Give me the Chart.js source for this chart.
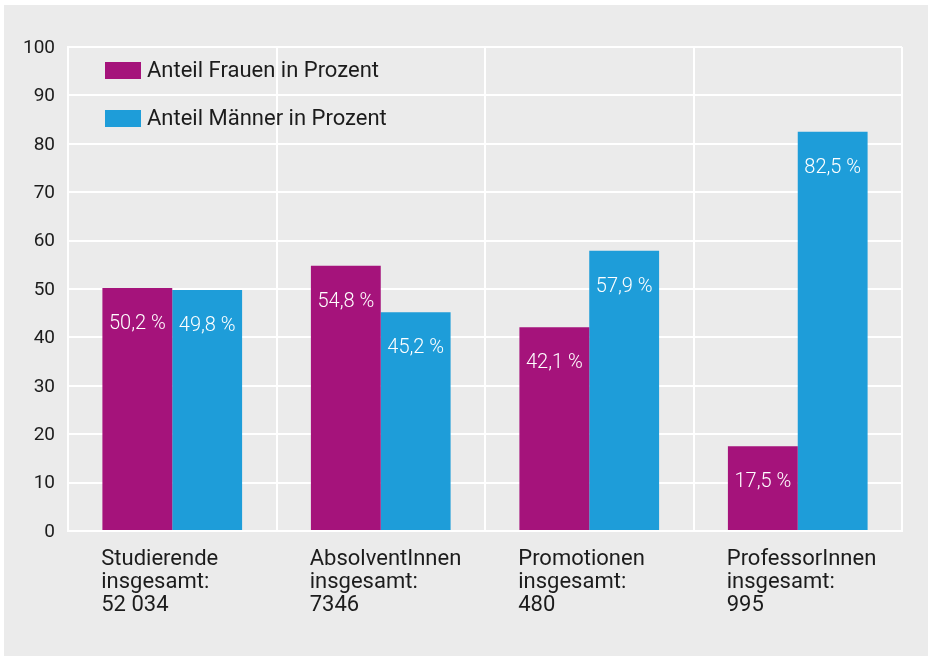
<!DOCTYPE html>
<html>
<head>
<meta charset="utf-8">
<script src="https://cdn.jsdelivr.net/npm/chart.js@4.4.1/dist/chart.umd.min.js"></script>
<style>
  html, body { margin: 0; padding: 0; background: #ffffff; }
  canvas { display: block; }
</style>
</head>
<body>
<canvas id="shareChart" width="928" height="657"></canvas>
<script>
  // Anteile Frauen / Männer
  var categories = [
      ['Studierende', 'insgesamt:', '52 034'],
      ['AbsolventInnen', 'insgesamt:', '7346'],
      ['Promotionen', 'insgesamt:', '480'],
      ['ProfessorInnen', 'insgesamt:', '995']
  ];
  var seriesNames = ['Anteil Frauen in Prozent', 'Anteil Männer in Prozent'];
  var womenValues = [50.2, 54.8, 42.1, 17.5];
  var menValues = [49.8, 45.2, 57.9, 82.5];
  var yTicks = [0, 10, 20, 30, 40, 50, 60, 70, 80, 90, 100];

  var panelColor = '#ebebeb';
  var textColor = '#1c1c1c';

  // gray panel behind everything
  var panelPlugin = {
      id: 'panel',
      beforeDraw: function(chart) {
          var ctx = chart.ctx;
          ctx.save();
          ctx.fillStyle = panelColor;
          ctx.fillRect(4, 5, chart.width - 4, chart.height - 6);
          ctx.restore();
      }
  };

  // white % labels inside the bars
  var valueLabelPlugin = {
      id: 'valueLabels',
      afterDatasetsDraw: function(chart) {
          var ctx = chart.ctx;
          ctx.save();
          ctx.font = '300 20px Roboto';
          ctx.fillStyle = '#ffffff';
          ctx.textAlign = 'center';
          ctx.textBaseline = 'middle';
          chart.data.datasets.forEach(function(ds, di) {
              chart.getDatasetMeta(di).data.forEach(function(bar, i) {
                  var txt = ds.data[i].toFixed(1).replace('.', ',') + ' %';
                  ctx.fillText(txt, bar.x, bar.y + 36);
              });
          });
          ctx.restore();
      }
  };

  // legend inside the plot, top left
  var insideLegendPlugin = {
      id: 'insideLegend',
      afterDraw: function(chart) {
          var ctx = chart.ctx;
          var area = chart.chartArea;
          ctx.save();
          ctx.font = '22px Roboto';
          ctx.textBaseline = 'middle';
          ctx.textAlign = 'left';
          chart.data.datasets.forEach(function(ds, di) {
              var bx = area.left + 37;
              var by = area.top + 15 + di * 48;
              ctx.fillStyle = ds.backgroundColor;
              ctx.fillRect(bx, by, 36, 17);
              ctx.fillStyle = textColor;
              ctx.fillText(ds.label, bx + 42, by + 9);
          });
          ctx.restore();
      }
  };

  var ctx = document.getElementById('shareChart').getContext('2d');
  var shareChart = new Chart(ctx, {
      type: 'bar',
      data: {
          labels: categories,
          datasets: [
              {
                  label: seriesNames[0],
                  data: womenValues,
                  backgroundColor: '#a5137b',
                  categoryPercentage: 0.67,
                  barPercentage: 1.0
              },
              {
                  label: seriesNames[1],
                  data: menValues,
                  backgroundColor: '#1e9dd9',
                  categoryPercentage: 0.67,
                  barPercentage: 1.0
              }
          ]
      },
      options: {
          responsive: false,
          animation: false,
          devicePixelRatio: 1,
          layout: { padding: { left: 0, top: 47, right: 26, bottom: 0 } },
          plugins: {
              legend: { display: false },
              tooltip: { enabled: false }
          },
          scales: {
              x: {
                  grid: { color: '#ffffff', lineWidth: 2, drawTicks: false, offset: true },
                  border: { color: '#ffffff', width: 2 },
                  ticks: {
                      color: textColor,
                      font: { family: 'Roboto', size: 22, lineHeight: 1.05 },
                      align: 'start',
                      labelOffset: -71,
                      padding: 17,
                      maxRotation: 0,
                      autoSkip: false
                  },
                  afterFit: function(scale) {
                      scale.height = 126;
                      scale.paddingLeft = 0;
                      scale.paddingRight = 0;
                  }
              },
              y: {
                  min: 0,
                  max: 100,
                  grid: { color: '#ffffff', lineWidth: 2, drawTicks: false },
                  border: { color: '#ffffff', width: 2 },
                  afterBuildTicks: function(scale) {
                      scale.ticks = yTicks.map(function(v) { return { value: v }; });
                  },
                  ticks: {
                      color: textColor,
                      font: { family: 'Roboto', size: 19 },
                      padding: 13,
                      labelOffset: 1
                  },
                  afterFit: function(scale) {
                      scale.width = 68;
                      scale.paddingTop = 0;
                      scale.paddingBottom = 0;
                  }
              }
          }
      },
      plugins: [panelPlugin, valueLabelPlugin, insideLegendPlugin]
  });
</script>
</body>
</html>
